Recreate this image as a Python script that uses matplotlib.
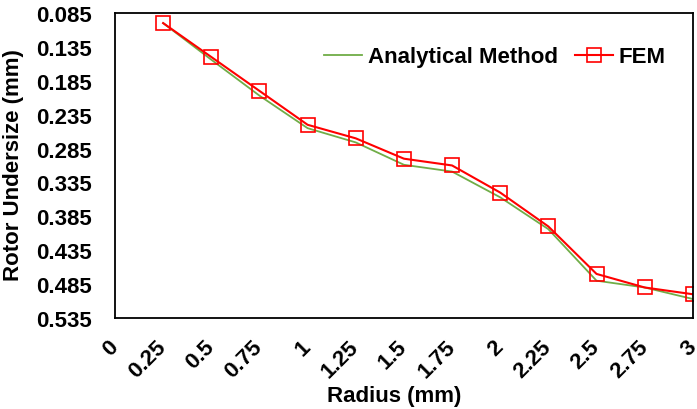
import matplotlib
matplotlib.use("Agg")
import matplotlib.pyplot as plt

plt.rcParams['font.family'] = ['Liberation Sans', 'DejaVu Sans']
plt.rcParams['font.weight'] = 'bold'

# Data
radius = [0.25, 0.5, 0.75, 1.0, 1.25, 1.5, 1.75, 2.0, 2.25, 2.5, 2.75, 3.0]
analytical = [0.100, 0.154, 0.207, 0.255, 0.276, 0.309, 0.319, 0.357, 0.404, 0.480, 0.490, 0.507]
fem = [0.100, 0.150, 0.200, 0.250, 0.270, 0.300, 0.310, 0.350, 0.400, 0.470, 0.490, 0.500]

x_ticks = [0, 0.25, 0.5, 0.75, 1, 1.25, 1.5, 1.75, 2, 2.25, 2.5, 2.75, 3]
x_labels = ['0', '0.25', '0.5', '0.75', '1', '1.25', '1.5', '1.75', '2', '2.25', '2.5', '2.75', '3']
y_ticks = [0.085, 0.135, 0.185, 0.235, 0.285, 0.335, 0.385, 0.435, 0.485, 0.535]

fig, ax = plt.subplots(figsize=(6.97, 4.10), dpi=100)
fig.subplots_adjust(left=0.165, right=0.994, top=0.966, bottom=0.222)

ax.plot(radius, analytical, color='#70ad47', lw=1.3, label='Analytical Method')
ax.plot(radius, fem, color='#ff0000', lw=1.5, marker='s', markersize=9.5,
        markerfacecolor='none', markeredgecolor='#ff0000', markeredgewidth=1.2, label='FEM')

ax.set_xlim(0, 3)
ax.set_ylim(0.535, 0.085)
ax.set_xticks(x_ticks)
ax.set_xticklabels(x_labels, rotation=45, ha='right', va='center', rotation_mode='anchor')
ax.set_yticks(y_ticks)
ax.set_yticklabels(['%.3f' % v for v in y_ticks])
ax.tick_params(length=0, labelsize=16)
ax.tick_params(axis='x', pad=18.5)
ax.tick_params(axis='y', pad=17)
for s in ax.spines.values():
    s.set_linewidth(1.3)

ax.set_xlabel('Radius (mm)', fontsize=16, fontweight='bold')
ax.set_ylabel('Rotor Undersize (mm)', fontsize=16, fontweight='bold')
ax.xaxis.set_label_coords(0.483, -0.22)
ax.yaxis.set_label_coords(-0.157, 0.503)

ax.legend(loc='center right', bbox_to_anchor=(0.952, 0.856), ncol=2, frameon=False,
          fontsize=16, handlelength=1.7, columnspacing=0.77, handletextpad=0.25,
          borderaxespad=0, borderpad=0)

plt.savefig('out.png', dpi=100)
